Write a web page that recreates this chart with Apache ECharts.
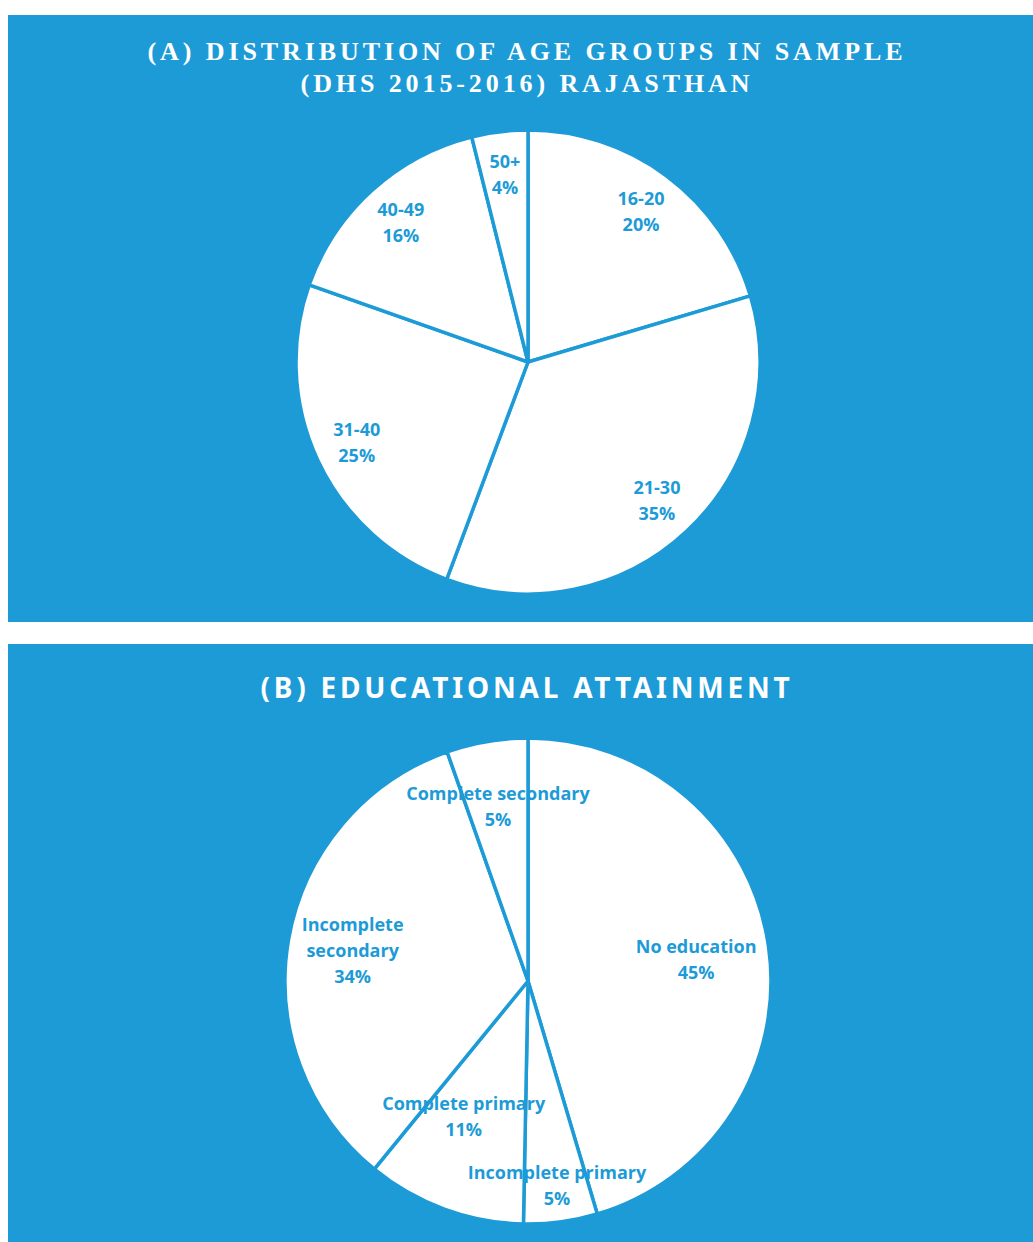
<!DOCTYPE html>
<html>
<head>
<meta charset="utf-8">
<title>DHS 2015-2016 Rajasthan</title>
<script src="https://cdn.jsdelivr.net/npm/echarts/dist/echarts.min.js"></script>
<style>
  html, body { margin: 0; padding: 0; background: #fff; overflow: hidden; width: 1033px; height: 1242px; }
  .panel { position: absolute; left: 8px; width: 1038px; background: #1d9bd7; }
  #age_chart { top: 15px; height: 607px; }
  #edu_chart { top: 644px; height: 598px; }
  /* the two titles are letter-spaced */
  text[style*="Liberation Serif"] { letter-spacing: 3.9px; }
  text[style*="Noto Sans"] { letter-spacing: 3.8px; }
</style>
</head>
<body>
<div class="panel" id="age_chart"></div>
<div class="panel" id="edu_chart"></div>
<script>
const ageGroups = ['16-20', '21-30', '31-40', '40-49', '50+']
const agePercent = [20.4, 35.3, 24.7, 15.7, 3.9]

const eduLevels = ['No education', 'Incomplete primary', 'Complete primary', 'Incomplete secondary', 'Complete secondary']
const eduPercent = [45.4, 4.9, 10.6, 33.7, 5.4]

const blue = '#1d9bd7'

// build one panel: white wedges + a transparent ring on top that only carries the labels
function pieOption (title, titleFont, titleTop, names, values, center, radius, labelRadius, nudge) {
  const data = names.map((n, i) => ({ name: n, value: values[i] }))
  const labelData = names.map((n, i) => {
    const item = { name: n, value: values[i] }
    if (nudge[n]) item.label = { offset: nudge[n] }
    return item
  })
  return {
    animation: false,
    title: {
      text: title,
      left: 'center',
      top: titleTop,
      padding: 0,
      textStyle: {
        color: '#fff',
        fontFamily: titleFont.family,
        fontSize: titleFont.size,
        fontWeight: 'bold',
        lineHeight: 32
      }
    },
    series: [
      {
        type: 'pie',
        center: center,
        radius: radius,
        startAngle: 90,
        silent: true,
        label: { show: false },
        labelLine: { show: false },
        itemStyle: { color: '#fff', borderColor: blue, borderWidth: 3.5 },
        data: data
      },
      {
        type: 'pie',
        center: center,
        radius: [2 * labelRadius - radius, radius],
        startAngle: 90,
        silent: true,
        z: 5,
        itemStyle: { color: 'rgba(0,0,0,0)', borderWidth: 0 },
        labelLine: { show: false },
        label: {
          show: true,
          position: 'inside',
          formatter: p => (p.name.length > 18 ? p.name.replace(' ', '\n') : p.name) + '\n' + Math.round(p.value) + '%',
          color: blue,
          fontFamily: 'Open Sans',
          fontWeight: 'bold',
          fontSize: 18,
          lineHeight: 26,
          align: 'center'
        },
        data: labelData
      }
    ]
  }
}

const ageChart = echarts.init(document.getElementById('age_chart'), null, { renderer: 'svg' })
ageChart.setOption(pieOption(
  '(A) DISTRIBUTION OF AGE GROUPS IN SAMPLE\n(DHS 2015-2016) RAJASTHAN',
  { family: 'Liberation Serif', size: 26 }, 20,
  ageGroups, agePercent, [520, 347], 232, 186, {}
))

const eduChart = echarts.init(document.getElementById('edu_chart'), null, { renderer: 'svg' })
eduChart.setOption(pieOption(
  '(B) EDUCATIONAL ATTAINMENT',
  { family: 'Noto Sans', size: 28 }, 27,
  eduLevels, eduPercent, [520, 337], 243, 175,
  { 'No education': [-8, 4], 'Incomplete primary': [5, 28], 'Complete primary': [-3, -32] }
))
</script>
</body>
</html>
